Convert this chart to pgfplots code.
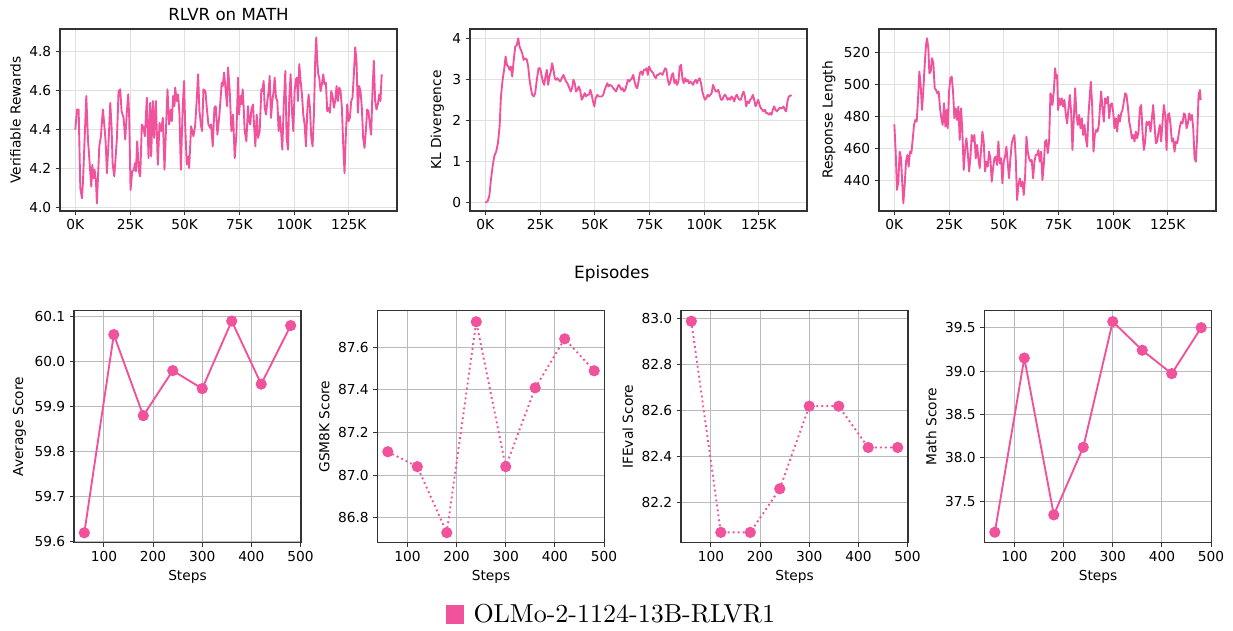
\documentclass[border=0pt]{standalone}
\usepackage{pgfplots}
\pgfplotsset{compat=1.18}
\usepackage{pgfplotstable}
\usepackage{fontspec}
\newfontfamily\dejavu{DejaVu Sans}
\newfontfamily\lmten{lmroman10-regular.otf}
\definecolor{olmo}{RGB}{240,82,156}

\pgfplotstableread{
x y
0.00 4.400
0.76 4.503
1.52 4.503
2.28 4.100
3.04 4.048
3.50 4.134
5.02 4.572
5.78 4.349
6.54 4.228
7.30 4.108
7.76 4.220
8.36 4.151
8.82 4.194
9.43 4.134
9.88 4.022
10.34 4.151
10.95 4.314
11.71 4.366
12.01 4.417
12.62 4.503
13.23 4.426
13.84 4.340
14.45 4.177
15.21 4.340
15.97 4.537
16.58 4.409
17.03 4.228
17.79 4.160
18.40 4.254
19.01 4.357
19.77 4.597
20.53 4.606
21.14 4.494
22.05 4.460
22.81 4.349
23.57 4.494
24.18 4.580
24.63 4.460
25.24 4.091
26.00 4.186
26.76 4.194
27.22 4.228
27.68 4.186
28.28 4.340
29.04 4.186
29.65 4.160
30.41 4.426
31.17 4.409
31.78 4.366
32.69 4.563
33.45 4.254
34.21 4.537
34.67 4.263
35.43 4.546
36.04 4.357
36.80 4.546
37.71 4.220
38.47 4.434
39.23 4.392
39.99 4.460
40.75 4.194
41.51 4.426
42.12 4.606
42.88 4.426
43.64 4.503
44.10 4.443
44.71 4.572
45.32 4.520
45.62 4.615
46.38 4.546
46.99 4.580
47.60 4.477
48.21 4.194
49.12 4.529
49.73 4.649
50.18 4.426
50.94 4.220
51.70 4.263
52.01 4.203
52.92 4.417
53.98 4.366
54.74 4.417
55.50 4.555
56.11 4.683
56.72 4.494
57.48 4.417
57.94 4.392
58.55 4.606
59.46 4.597
60.07 4.512
60.83 4.426
61.59 4.409
62.04 4.426
62.80 4.314
63.56 4.512
64.17 4.520
64.93 4.374
65.85 4.477
66.91 4.640
67.37 4.623
67.98 4.692
68.73 4.597
69.34 4.520
69.80 4.718
70.56 4.597
71.32 4.392
72.08 4.477
72.84 4.254
73.60 4.374
74.36 4.666
74.82 4.477
75.43 4.572
75.88 4.529
76.49 4.606
76.95 4.512
77.40 4.392
78.16 4.340
78.92 4.520
79.38 4.443
79.99 4.426
80.44 4.503
81.21 4.529
81.66 4.426
82.27 4.314
82.88 4.477
83.49 4.357
84.25 4.392
85.01 4.606
85.46 4.597
86.07 4.649
86.53 4.512
87.14 4.477
87.74 4.546
88.35 4.597
88.81 4.675
89.42 4.460
90.03 4.546
90.63 4.597
91.09 4.666
91.70 4.563
92.31 4.546
92.91 4.392
93.52 4.469
94.13 4.374
94.59 4.297
95.20 4.512
95.96 4.700
96.56 4.357
97.17 4.297
97.78 4.563
98.39 4.683
99.00 4.494
99.61 4.392
100.21 4.597
100.82 4.658
101.28 4.666
101.74 4.546
102.34 4.735
102.95 4.649
103.56 4.580
104.17 4.477
104.78 4.426
105.38 4.314
105.99 4.494
106.60 4.580
107.21 4.512
107.82 4.357
108.43 4.314
109.03 4.477
109.64 4.761
110.10 4.872
110.56 4.752
111.01 4.683
111.47 4.666
112.08 4.597
112.68 4.632
113.29 4.683
113.90 4.632
114.51 4.640
115.12 4.494
115.73 4.512
116.33 4.486
116.94 4.597
117.55 4.572
118.16 4.512
118.77 4.546
119.38 4.623
119.98 4.546
120.59 4.615
121.20 4.597
121.81 4.512
122.42 4.323
123.02 4.177
123.63 4.374
124.24 4.529
124.85 4.443
125.46 4.460
126.07 4.546
126.67 4.563
127.28 4.683
127.89 4.821
128.50 4.752
129.11 4.486
129.72 4.623
130.32 4.597
130.93 4.512
131.54 4.357
132.15 4.306
132.76 4.392
133.37 4.503
133.97 4.494
134.58 4.426
135.19 4.374
135.80 4.597
136.41 4.752
137.01 4.546
137.62 4.503
138.23 4.529
138.84 4.580
139.45 4.546
140.00 4.683
}\rewards

\pgfplotstableread{
x y
0.00 0.000
1.06 0.040
1.82 0.162
2.58 0.567
3.34 0.891
4.10 1.134
5.01 1.255
5.77 1.457
6.53 1.862
7.14 2.591
7.90 2.996
8.66 3.279
9.26 3.563
9.87 3.360
10.48 3.320
11.09 3.239
11.69 3.320
12.30 3.077
12.91 3.441
13.67 3.806
14.43 3.846
15.04 4.008
15.64 3.806
16.25 3.725
16.86 3.644
17.47 3.482
18.23 3.522
18.99 3.482
19.59 3.320
20.20 2.996
20.81 2.793
21.42 2.632
22.17 2.591
22.78 2.672
23.54 2.996
24.30 3.279
25.06 3.279
25.67 3.117
26.28 2.955
26.88 2.874
27.49 3.077
28.10 3.239
28.71 2.874
29.31 3.077
29.92 3.198
30.53 3.401
31.14 3.239
31.74 3.036
32.35 2.996
32.96 3.036
33.57 2.996
34.17 2.955
34.93 3.036
35.69 3.117
36.30 3.036
36.91 2.955
37.51 2.915
38.43 2.793
39.03 2.712
39.64 2.793
40.25 2.996
40.86 2.915
41.46 2.712
42.07 2.753
42.68 2.834
43.29 2.753
44.05 2.510
44.80 2.591
45.41 2.672
46.02 2.591
46.63 2.632
47.39 2.632
47.99 2.753
48.60 2.632
49.21 2.470
49.82 2.348
50.42 2.550
51.18 2.632
51.79 2.591
52.40 2.591
53.16 2.591
53.92 2.632
54.52 2.753
55.13 2.834
55.74 2.915
56.35 2.834
56.96 2.874
57.71 2.850
58.47 2.793
59.08 2.753
59.69 2.712
60.30 2.793
60.90 2.874
61.51 2.834
62.12 2.753
62.73 2.793
63.33 2.712
63.94 2.753
64.55 2.874
65.16 2.996
65.76 2.955
66.37 2.996
66.98 3.036
67.59 3.117
68.19 2.955
68.80 2.834
69.41 2.793
70.02 2.955
70.62 3.158
71.23 3.198
71.84 3.117
72.45 3.239
73.05 3.239
73.66 3.279
74.27 3.117
74.88 3.320
75.48 3.239
76.09 3.198
76.70 3.158
77.31 3.077
77.91 3.036
78.52 3.117
79.13 3.117
79.74 3.158
80.34 3.158
80.95 3.117
81.56 3.198
82.17 3.279
82.77 3.239
83.38 2.996
83.99 2.874
84.60 2.955
85.20 3.117
85.81 3.158
86.42 2.915
87.03 2.996
87.63 2.874
88.24 2.955
88.85 3.320
89.46 3.360
90.06 3.036
90.67 2.915
91.28 3.036
91.89 2.955
92.49 2.996
93.10 2.915
93.71 2.955
94.32 2.915
94.93 2.874
95.53 2.955
96.14 2.996
96.75 2.915
97.36 2.996
97.96 3.036
98.57 2.915
99.18 2.712
99.79 2.591
100.39 2.510
101.00 2.550
101.61 2.632
102.22 2.591
102.82 2.632
103.43 2.672
104.04 2.874
104.65 2.793
105.25 2.712
105.86 2.712
106.47 2.753
107.08 2.632
107.68 2.510
108.29 2.510
108.90 2.591
109.51 2.632
110.11 2.591
110.72 2.510
111.33 2.550
111.94 2.510
112.54 2.591
113.15 2.550
113.76 2.470
114.37 2.591
114.97 2.632
115.58 2.550
116.19 2.510
116.80 2.510
117.40 2.632
118.01 2.712
118.62 2.591
119.23 2.348
119.83 2.470
120.44 2.429
121.05 2.510
121.66 2.550
122.26 2.632
122.87 2.510
123.48 2.348
124.09 2.429
124.69 2.510
125.30 2.389
125.91 2.308
126.52 2.267
127.12 2.227
127.73 2.267
128.34 2.186
128.95 2.186
129.56 2.146
130.16 2.186
130.77 2.146
131.38 2.267
131.99 2.348
132.59 2.267
133.20 2.227
133.81 2.267
134.42 2.308
135.02 2.308
135.63 2.308
136.24 2.348
136.85 2.267
137.45 2.227
138.06 2.470
138.67 2.591
139.27 2.607
140.00 2.620
}\kldiv

\pgfplotstableread{
x y
0.00 475.1
0.61 458.0
1.22 434.0
1.83 439.2
2.44 458.0
3.05 453.8
3.66 437.1
4.12 425.6
4.73 437.1
5.34 451.7
5.95 455.9
6.55 448.6
7.16 458.0
7.77 457.0
8.38 465.3
8.99 474.7
9.60 477.8
10.21 476.8
10.82 490.4
11.43 508.1
12.04 499.7
12.65 484.1
13.26 496.6
13.87 512.3
14.48 524.8
14.94 529.0
15.55 522.7
16.01 507.1
16.62 508.1
17.23 516.5
17.84 513.3
18.45 497.7
19.05 496.6
19.66 494.5
20.27 495.6
20.88 485.1
21.49 478.9
22.10 474.7
22.71 488.3
23.32 473.7
23.93 484.1
24.39 472.6
25.00 495.6
25.61 503.9
26.22 505.0
26.83 495.6
27.44 478.9
28.05 485.1
28.66 477.8
29.27 486.2
29.88 465.3
30.49 485.1
31.10 470.5
31.71 446.5
32.32 459.0
32.93 466.3
33.54 458.0
34.15 445.5
34.76 453.8
35.37 468.4
35.98 464.3
36.59 468.4
37.20 453.8
37.80 462.2
38.41 453.8
39.02 447.6
39.63 459.0
40.24 470.5
40.85 464.3
41.46 445.5
42.07 451.7
42.68 448.6
43.29 458.0
43.90 453.8
44.51 439.2
45.12 447.6
45.73 453.8
46.34 454.9
46.95 449.6
47.56 464.3
48.17 450.7
48.78 453.8
49.39 438.2
50.00 451.7
50.61 454.9
51.22 461.1
51.83 450.7
52.44 441.3
53.05 453.8
53.66 463.2
54.27 466.3
54.88 468.4
55.49 453.8
56.10 427.7
56.71 437.1
57.32 441.3
57.93 436.1
58.54 439.2
59.15 430.9
59.76 442.3
60.37 467.4
60.98 458.0
61.59 453.8
62.20 451.7
62.80 452.8
63.41 441.3
64.02 451.7
64.63 455.9
65.24 455.9
65.85 459.0
66.46 451.7
67.07 458.0
67.68 440.2
68.29 449.6
68.90 464.3
69.51 465.3
70.12 457.0
70.73 464.3
71.34 494.5
71.65 493.5
72.26 487.2
72.87 495.6
73.48 510.2
73.93 503.9
74.39 506.0
74.85 484.1
75.30 491.4
75.91 487.2
76.52 491.4
77.13 486.2
77.74 490.4
78.35 481.0
78.96 475.7
79.57 485.1
80.18 493.5
80.79 483.0
81.40 459.0
82.01 478.9
82.62 497.7
83.23 481.0
83.84 474.7
84.45 481.0
85.06 472.6
85.67 478.9
86.28 468.4
86.89 474.7
87.50 466.3
88.11 461.1
88.72 481.0
89.33 493.5
89.79 501.8
90.40 487.2
91.01 458.0
91.62 468.4
92.23 471.6
92.84 470.5
93.45 474.7
94.06 487.2
94.51 495.6
95.12 485.1
95.73 476.8
96.34 491.4
96.95 488.3
97.56 492.4
98.17 478.9
98.78 487.2
99.39 488.3
100.00 483.0
100.61 472.6
101.22 478.9
101.83 470.5
102.44 481.0
103.05 476.8
103.66 482.0
104.27 484.1
104.88 489.3
105.49 494.5
106.10 493.5
106.71 486.2
107.32 476.8
107.93 472.6
108.54 466.3
109.15 468.4
109.76 464.3
110.37 470.5
110.98 466.3
111.59 470.5
112.20 485.1
112.81 487.2
113.41 470.5
114.02 459.0
114.63 464.3
115.24 476.8
115.85 474.7
116.46 476.8
117.07 470.5
117.68 478.9
118.29 487.2
118.90 474.7
119.51 463.2
120.12 464.3
120.73 470.5
121.34 474.7
121.95 464.3
122.56 476.8
123.17 487.2
123.78 481.0
124.39 459.0
125.00 481.0
125.61 482.0
126.22 474.7
126.83 464.3
127.44 466.3
128.05 458.0
128.66 464.3
129.27 463.2
129.88 468.4
130.49 473.7
131.10 476.8
131.71 475.7
132.32 482.0
132.93 481.0
133.54 472.6
134.15 475.7
134.76 482.0
135.37 477.8
135.98 481.0
136.59 472.6
137.20 453.8
137.80 451.7
138.41 468.4
139.02 493.5
139.63 496.6
140.00 490.4
}\resplen

\pgfplotsset{
  base/.style={
    scale only axis,
    axis line style={black!80, line width=0.85pt},
    tick align=outside, tick pos=left,
    major tick length=3.5pt,
    tick style={black!80, line width=0.8pt},
    grid=major,
    tick label style={font=\dejavu\fontsize{11}{13}\selectfont},
    label style={font=\dejavu\fontsize{11}{13}\selectfont},
    /pgf/number format/assume math mode=true,
    enlargelimits=false,
  },
  top/.style={base, width=269.6pt, height=145.6pt, xmin=-7, xmax=147,
    xtick={0,25,50,75,100,125}, xticklabels={0K,25K,50K,75K,100K,125K},
    major grid style={black!12, line width=0.8pt}},
  bot/.style={base, width=181.6pt, height=185.6pt, xmin=39, xmax=501,
    xtick={100,200,300,400,500}, xlabel={Steps},
    major grid style={black!27, line width=0.8pt},
    yticklabel style={/pgf/number format/.cd, fixed, fixed zerofill, precision=1}},
  topline/.style={olmo, line width=1.5pt, line join=round},
  solidmk/.style={olmo, line width=1.5pt, mark=*, mark size=3.7pt, mark options={fill=olmo, draw=olmo}},
  dotmk/.style={olmo, line width=1.5pt, dash pattern=on 1.5pt off 2.5pt, mark=*, mark size=3.7pt, mark options={solid, fill=olmo, draw=olmo}},
}

\begin{document}
\begin{tikzpicture}
\path[use as bounding box] (0pt,0pt) rectangle (986.4pt,-504.8pt);

% top row
\begin{axis}[top, at={(48pt,-168.8pt)}, anchor=south west,
  ymin=3.983, ymax=4.915, ytick={4.0,4.2,4.4,4.6,4.8},
  yticklabel style={/pgf/number format/.cd, fixed, fixed zerofill, precision=1},
  ylabel={Verifiable Rewards}]
\addplot[topline] table[x=x, y=y] {\rewards};
\end{axis}

\begin{axis}[top, at={(376pt,-168.8pt)}, anchor=south west,
  ymin=-0.2, ymax=4.235, ytick={0,1,2,3,4},
  ylabel={KL Divergence}]
\addplot[topline] table[x=x, y=y] {\kldiv};
\end{axis}

\begin{axis}[top, at={(703.2pt,-168.8pt)}, anchor=south west,
  ymin=420.8, ymax=534.8, ytick={440,460,480,500,520},
  ylabel={Response Length}]
\addplot[topline] table[x=x, y=y] {\resplen};
\end{axis}

\node[font=\dejavu\fontsize{13.3}{16}\selectfont, anchor=base] at (182.8pt,-16.8pt) {RLVR on MATH};
\node[font=\dejavu\fontsize{13.5}{16}\selectfont, anchor=base] at (489.4pt,-223.2pt) {Episodes};

% bottom row
\begin{axis}[bot, at={(59.2pt,-434.16pt)}, anchor=south west,
  ymin=59.598, ymax=60.113, ytick={59.6,59.7,59.8,59.9,60.0,60.1},
  ylabel={Average Score}]
\addplot[solidmk] coordinates {(60,59.62) (120,60.06) (180,59.88) (240,59.98) (300,59.94) (360,60.09) (420,59.95) (480,60.08)};
\end{axis}

\begin{axis}[bot, at={(302pt,-434.16pt)}, anchor=south west,
  ymin=86.683, ymax=87.772, ytick={86.8,87.0,87.2,87.4,87.6},
  ylabel={GSM8K Score},
  legend style={draw=none, fill=none, inner sep=0pt, outer sep=0pt,
    at={(0.3018,-0.3073)}, anchor=west,
    font=\lmten\fontsize{20.8}{25}\selectfont}]
\addplot[dotmk, forget plot] coordinates {(60,87.11) (120,87.04) (180,86.73) (240,87.72) (300,87.04) (360,87.41) (420,87.64) (480,87.49)};
\addlegendimage{legend image code/.code={\fill[olmo] (0pt,-7.2pt) rectangle (13.6pt,7.2pt);}}
\addlegendentry{\hspace*{6pt}OLMo-2-1124-13B-RLVR1}
\end{axis}

\begin{axis}[bot, at={(544.8pt,-434.16pt)}, anchor=south west,
  ymin=82.025, ymax=83.036, ytick={82.2,82.4,82.6,82.8,83.0},
  ylabel={IFEval Score}]
\addplot[dotmk] coordinates {(60,82.99) (120,82.07) (180,82.07) (240,82.26) (300,82.62) (360,82.62) (420,82.44) (480,82.44)};
\end{axis}

\begin{axis}[bot, at={(787.6pt,-434.16pt)}, anchor=south west,
  ymin=37.019, ymax=39.696, ytick={37.5,38.0,38.5,39.0,39.5},
  ylabel={Math Score}]
\addplot[solidmk] coordinates {(60,37.14) (120,39.15) (180,37.34) (240,38.12) (300,39.57) (360,39.24) (420,38.97) (480,39.50)};
\end{axis}
\end{tikzpicture}
\end{document}
